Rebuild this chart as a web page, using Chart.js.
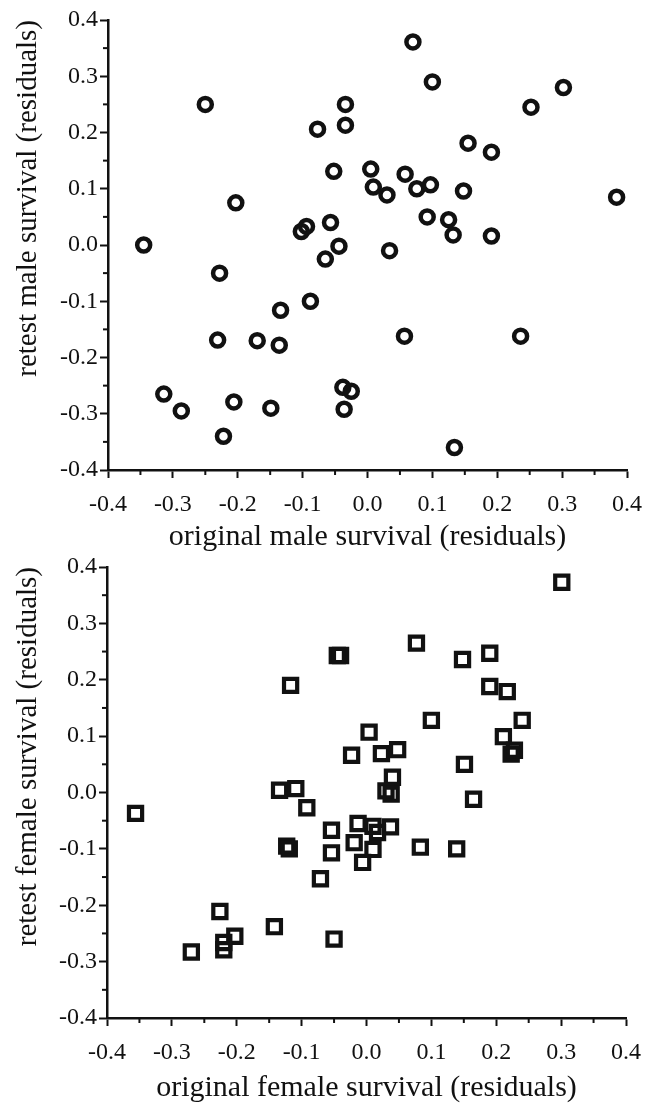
<!DOCTYPE html>
<html>
<head>
<meta charset="utf-8">
<script src="https://cdn.jsdelivr.net/npm/chart.js@4"></script>
<style>
  body { margin: 0; background: #fff; }
  .box { position: absolute; left: 0; width: 649px; }
</style>
</head>
<body>
<div class="box" style="top:0;height:552px"><canvas id="maleChart" width="649" height="552"></canvas></div>
<div class="box" style="top:545px;height:558px"><canvas id="femaleChart" width="649" height="558"></canvas></div>
<script>
var axisTicks = [-0.4, -0.3, -0.2, -0.1, 0.0, 0.1, 0.2, 0.3, 0.4];

var maleOriginal = [-0.345, -0.25, -0.203, -0.228, -0.088, -0.077, -0.034, -0.034, -0.052, -0.102,
    -0.094, -0.057, -0.044, -0.065, 0.07, 0.1, 0.005, 0.009, 0.03, 0.058,
    0.076, 0.097, 0.034, 0.092, 0.125, 0.132, 0.148, 0.155, 0.191, 0.191,
    0.252, 0.302, 0.384, -0.134, -0.231, -0.17, -0.136, 0.057, 0.236, -0.314,
    -0.287, -0.206, -0.149, -0.222, -0.038, -0.025, -0.036, 0.134];
var maleRetest = [0.0, 0.25, 0.075, -0.05, -0.1, 0.206, 0.25, 0.213, 0.131, 0.024,
    0.033, 0.04, -0.002, -0.025, 0.361, 0.29, 0.135, 0.103, 0.089, 0.126,
    0.1, 0.107, -0.01, 0.05, 0.045, 0.018, 0.096, 0.181, 0.165, 0.016,
    0.245, 0.28, 0.085, -0.116, -0.169, -0.17, -0.178, -0.162, -0.162, -0.265,
    -0.295, -0.279, -0.29, -0.34, -0.253, -0.26, -0.292, -0.36];

var femaleOriginal = [0.301, 0.077, -0.045, -0.04, -0.117, 0.148, 0.19, 0.19, 0.217, 0.1,
    0.24, 0.211, 0.228, 0.223, 0.004, -0.023, 0.023, 0.048, 0.04, 0.03,
    0.038, 0.151, 0.165, -0.356, -0.134, -0.109, -0.092, -0.054, -0.013, 0.01,
    0.017, 0.037, -0.019, 0.01, -0.006, -0.054, -0.123, -0.119, 0.083, 0.139,
    -0.071, -0.226, -0.203, -0.22, -0.22, -0.27, -0.142, -0.05];
var femaleRetest = [0.373, 0.265, 0.243, 0.243, 0.19, 0.236, 0.247, 0.188, 0.179, 0.128,
    0.128, 0.099, 0.075, 0.068, 0.107, 0.066, 0.069, 0.076, 0.027, 0.003,
    -0.003, 0.05, -0.012, -0.037, 0.004, 0.007, -0.027, -0.067, -0.055, -0.06,
    -0.071, -0.061, -0.089, -0.101, -0.124, -0.107, -0.095, -0.1, -0.097, -0.1,
    -0.153, -0.211, -0.255, -0.266, -0.279, -0.283, -0.238, -0.26];

var ink = '#111';
var serif = "'Liberation Serif', 'Times New Roman', serif";

// small ticks half way between the labelled ones
var minorTicks = {
    id: 'minorTicks',
    afterDraw: function(chart) {
        var ctx = chart.ctx;
        var xs = chart.scales.x, ys = chart.scales.y;
        ctx.save();
        ctx.strokeStyle = ink;
        ctx.lineWidth = 2;
        for (var i = 0; i < axisTicks.length - 1; i++) {
            var mid = (axisTicks[i] + axisTicks[i + 1]) / 2;
            var px = xs.getPixelForValue(mid);
            ctx.beginPath();
            ctx.moveTo(px, xs.top);
            ctx.lineTo(px, xs.top + 5);
            ctx.stroke();
            var py = ys.getPixelForValue(mid);
            ctx.beginPath();
            ctx.moveTo(ys.right, py);
            ctx.lineTo(ys.right - 5, py);
            ctx.stroke();
        }
        ctx.restore();
    }
};

function makePoints(xv, yv) {
    var pts = [];
    for (var i = 0; i < xv.length; i++) {
        pts.push({x: xv[i], y: yv[i]});
    }
    return pts;
}

function axis(titleText, fitSize, horizontal) {
    return {
        type: 'linear',
        min: -0.4,
        max: 0.4,
        afterBuildTicks: function(scale) {
            scale.ticks = axisTicks.map(function(v) { return {value: v}; });
        },
        afterFit: function(scale) {
            // fixed box sizes, let layout.padding decide the edges
            if (horizontal) {
                scale.height = fitSize;
                scale.paddingLeft = 0;
                scale.paddingRight = 0;
            } else {
                scale.width = fitSize;
                scale.paddingTop = 0;
                scale.paddingBottom = 0;
            }
        },
        border: {display: true, color: ink, width: 2.5},
        grid: {drawOnChartArea: false, drawTicks: true, tickLength: 8, tickWidth: 2, tickColor: ink},
        ticks: {
            color: ink,
            padding: horizontal ? 12 : 2,
            font: {family: serif, size: 24},
            callback: function(v) { return (Math.round(v * 10) / 10).toFixed(1); }
        },
        title: {
            display: true,
            text: titleText,
            color: ink,
            align: horizontal ? 'center' : 'end',
            font: {family: serif, size: horizontal ? 30 : 29, lineHeight: horizontal ? 1 : 1.2},
            padding: horizontal ? {top: 5, bottom: 0} : {top: 11, bottom: 0}
        }
    };
}

function drawPanel(canvasId, xv, yv, style, radius, border, xTitle, yTitle, pad, xHeight, yWidth) {
    var target = document.getElementById(canvasId);
    new Chart(target, {
        type: 'scatter',
        data: {
            datasets: [{
                data: makePoints(xv, yv),
                pointStyle: style,
                pointRadius: radius,
                pointHoverRadius: radius,
                pointBorderWidth: border,
                pointBorderColor: ink,
                pointBackgroundColor: 'rgba(255,255,255,0)'
            }]
        },
        options: {
            responsive: false,
            animation: false,
            layout: {padding: pad},
            plugins: {legend: {display: false}, tooltip: {enabled: false}},
            scales: {
                x: axis(xTitle, xHeight, true),
                y: axis(yTitle, yWidth, false)
            }
        },
        plugins: [minorTicks]
    });
}

drawPanel('maleChart', maleOriginal, maleRetest, 'circle', 6.5, 4.5,
    'original male survival (residuals)', 'retest male survival (residuals)',
    {top: 20, right: 22, left: 0, bottom: 0}, 82, 108);
drawPanel('femaleChart', femaleOriginal, femaleRetest, 'rect', 9.3, 4.2,
    'original female survival (residuals)', 'retest female survival (residuals)',
    {top: 22, right: 23, left: 0, bottom: 0}, 85, 107);
</script>
</body>
</html>
